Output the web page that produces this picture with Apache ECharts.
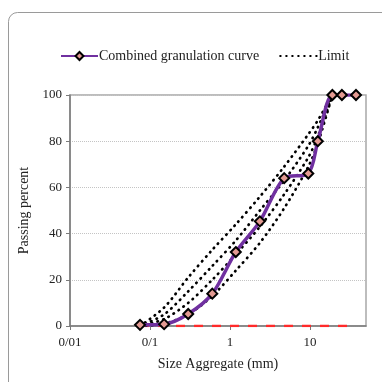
<!DOCTYPE html>
<html>
<head>
<meta charset="utf-8">
<script src="https://cdn.jsdelivr.net/npm/echarts@6/dist/echarts.min.js"></script>
<style>
html,body{margin:0;padding:0;background:#fff;}
#c{width:382px;height:382px;}
</style>
</head>
<body>
<div id="c"></div>
<script>
// Sieve sizes (mm)
var sieves = [0.075, 0.15, 0.3, 0.6, 1.18, 2.36, 4.75, 9.5, 12.5, 19, 25, 37.5];
// Combined granulation curve (passing %)
var combined = [0.5, 0.8, 5.2, 14, 32, 45.3, 64, 66, 80, 100, 100, 100];
// Limit curves (sizes up to 19 mm)
var limitSieves = [0.075, 0.15, 0.3, 0.6, 1.18, 2.36, 4.75, 9.5, 12.5, 19];
var limit1 = [0, 8, 21, 33, 44, 56, 69, 83, 89, 100];
var limit2 = [0, 5, 15, 26, 37, 50, 63, 78, 86, 100];
var limit3 = [0, 3, 10, 20, 31, 43, 57, 73, 82, 100];
var limit4 = [0, 1, 5, 13, 24, 36, 51, 69, 79, 100];
// Zero baseline (red dashed)
var zeroLine = [0, 0, 0, 0, 0, 0, 0, 0, 0, 0, 0, 0];
// Tick labels
var xTickLabels = {"0.01": "0/01", "0.1": "0/1", "1": "1", "10": "10"};
var yTicks = [0, 20, 40, 60, 80, 100];

function pairs(xs, ys) { return xs.map(function (x, i) { return [x, ys[i]]; }); }

var serif = 'Liberation Serif';
var limitStyle = { color: '#000', width: 2.7, type: [0.5, 5.5], cap: 'round' };
function limitSeries(vals) {
  return { name: 'Limit', type: 'line', data: pairs(limitSieves, vals), symbol: 'none',
    smooth: 0.3, lineStyle: limitStyle, itemStyle: { color: '#000' }, z: 3 };
}

var chart = echarts.init(document.getElementById('c'), null, { renderer: 'canvas' });
chart.setOption({
  animation: false,
  backgroundColor: '#fff',
  graphic: [{
    type: 'rect', shape: { x: 8.5, y: 12.5, width: 390, height: 390, r: 9 },
    style: { fill: 'none', stroke: '#9a9a9a', lineWidth: 1 }, silent: true, z: -1
  }],
  legend: {
    left: 55, top: 44, itemWidth: 37, itemHeight: 10, itemGap: 20,
    data: [
      { name: 'Combined granulation curve' },
      { name: 'Limit', itemStyle: { opacity: 0 } }
    ],
    textStyle: { fontFamily: serif, fontSize: 14, color: '#222', padding: [0, 0, 0, -4] }
  },
  grid: { left: 70, right: 16, top: 95, bottom: 56, show: true, borderColor: '#a8a8a8', borderWidth: 1.5, backgroundColor: 'transparent' },
  xAxis: {
    type: 'log', logBase: 10, min: 0.01, max: 50,
    name: 'Size Aggregate (mm)', nameLocation: 'middle', nameGap: 31,
    nameTextStyle: { fontFamily: serif, fontSize: 14, color: '#222' },
    axisLine: { onZero: false, lineStyle: { color: '#7a7a7a', width: 1.5 } },
    axisTick: { show: true, length: 4, lineStyle: { color: '#7a7a7a' } },
    axisLabel: { fontFamily: serif, fontSize: 13, color: '#222', margin: 10, showMaxLabel: false,
      formatter: function (v) { var k = String(+v.toPrecision(6)); return xTickLabels[k] !== undefined ? xTickLabels[k] : ''; } },
    splitLine: { show: false },
    minorTick: { show: false }
  },
  yAxis: {
    type: 'value', min: 0, max: 100, interval: 20,
    name: 'Passing percent', nameLocation: 'middle', nameGap: 36,
    nameTextStyle: { fontFamily: serif, fontSize: 14, color: '#222' },
    axisLine: { show: true, lineStyle: { color: '#7a7a7a', width: 1.5 } },
    axisTick: { show: true, length: 4, lineStyle: { color: '#7a7a7a' } },
    axisLabel: { fontFamily: serif, fontSize: 13, color: '#222', margin: 8,
      formatter: function (v) { return yTicks.indexOf(v) >= 0 ? String(v) : ''; } },
    splitLine: { show: true, lineStyle: { color: '#c4c4c4', type: [1, 1], width: 1 } }
  },
  series: [
    { name: 'zero', type: 'line', data: pairs(sieves, zeroLine), symbol: 'none',
      lineStyle: { color: '#ff2a2a', width: 2.5, type: [9, 9] }, z: 2 },
    limitSeries(limit1), limitSeries(limit2), limitSeries(limit3), limitSeries(limit4),
    { name: 'Combined granulation curve', type: 'line', data: pairs(sieves, combined),
      smooth: 0.3, symbol: 'diamond', symbolSize: 10,
      lineStyle: { color: '#7030a0', width: 3.5 },
      itemStyle: { color: '#e39a92', borderColor: '#000', borderWidth: 2 }, z: 5 }
  ]
});
</script>
</body>
</html>
